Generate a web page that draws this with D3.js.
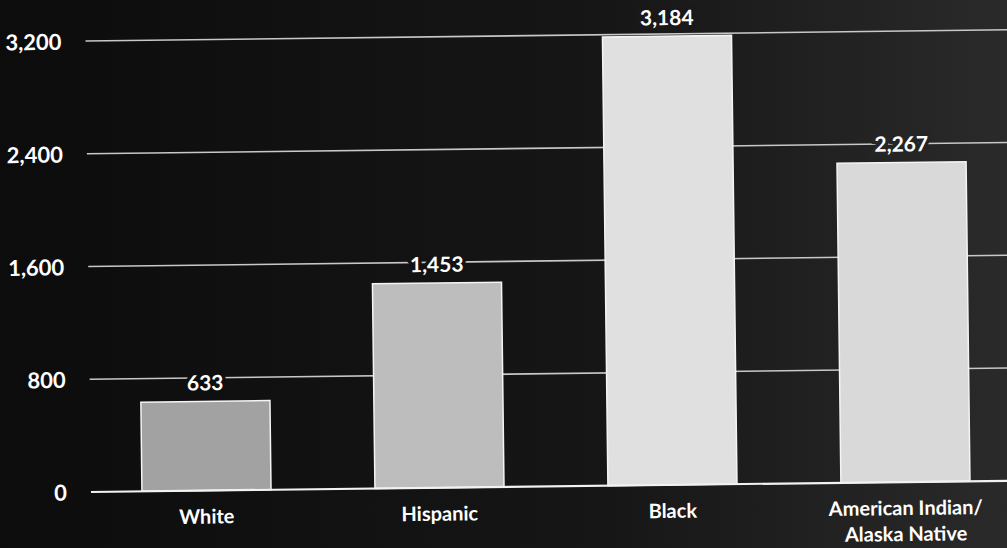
<!DOCTYPE html>
<html>
<head>
<meta charset="utf-8">
<script src="https://cdn.jsdelivr.net/npm/d3@7"></script>
<style>
  html, body { margin: 0; padding: 0; background: #111; }
  svg { display: block; }
  text { font-family: Lato, "DejaVu Sans", sans-serif; font-weight: 700; fill: #fff; }
</style>
</head>
<body>
<svg id="chart" width="1007" height="548"></svg>
<script>
// Rate per 100,000 by race/ethnicity
const categories = ["White", "Hispanic", "Black", "American Indian/\nAlaska Native"];
const values = [633, 1453, 3184, 2267];
const tickValues = [0, 800, 1600, 2400, 3200];
const barFills = ["#a2a2a2", "#bdbdbd", "#e0e0e0", "#d9d9d9"];

const W = 1007, H = 548;
const svg = d3.select("#chart");

// dark backdrop, slightly lighter toward the right
const bgStops = [[0, "#0c0c0c"], [0.6, "#161616"], [1, "#2a2a2a"]];
const defs = svg.append("defs");
const grad = defs.append("linearGradient").attr("id", "bg").attr("x1", 0).attr("x2", 1);
bgStops.forEach(([o, c]) => grad.append("stop").attr("offset", o).attr("stop-color", c));
svg.append("rect").attr("width", W).attr("height", H).attr("fill", "url(#bg)");
const bgAt = d3.scaleLinear().domain(bgStops.map(s => s[0] * W)).range(bgStops.map(s => s[1]));

const plotLeft = 90, plotRight = 1022, plotTop = 41, plotBottom = 492;

const x = d3.scaleBand().domain(categories).range([plotLeft, plotRight]).paddingInner(0.446).paddingOuter(0.223);
const y = d3.scaleLinear().domain([0, 3200]).range([plotBottom, plotTop]);

// whole plot is tilted slightly counter-clockwise
const g = svg.append("g").attr("transform", `rotate(-0.7, ${plotLeft}, ${plotBottom})`);

// horizontal gridlines
g.append("g").selectAll("line").data(tickValues.filter(d => d > 0)).join("line")
  .attr("x1", plotLeft + 1).attr("x2", W + 20)
  .attr("y1", d => y(d)).attr("y2", d => y(d))
  .attr("stroke", "#c8c8c8").attr("stroke-width", 1.6);

// y axis tick labels
const yAxis = d3.axisLeft(y).tickValues(tickValues).tickFormat(d3.format(",")).tickSize(0).tickPadding(0);
const ya = g.append("g").attr("transform", "translate(67,0)").call(yAxis);
ya.select(".domain").remove();
ya.selectAll("text").attr("font-size", 22).attr("fill", "#fff")
  .style("font-family", "Lato, sans-serif").style("font-weight", 700).attr("dy", "0.36em");

// bars
g.append("g").selectAll("rect").data(values).join("rect")
  .attr("x", (d, i) => x(categories[i]))
  .attr("width", x.bandwidth())
  .attr("y", d => y(d))
  .attr("height", d => y(0) - y(d))
  .attr("fill", (d, i) => barFills[i])
  .attr("stroke", "#f4f4f4").attr("stroke-width", 1.5);

// baseline
g.append("line").attr("x1", plotLeft + 1).attr("x2", W + 20)
  .attr("y1", y(0)).attr("y2", y(0))
  .attr("stroke", "#f2f2f2").attr("stroke-width", 2.2);

// value labels, knocking out the gridline behind them
g.append("g").selectAll("text").data(values).join("text")
  .attr("x", (d, i) => x(categories[i]) + x.bandwidth() / 2)
  .attr("y", d => y(d) - 11)
  .attr("text-anchor", "middle")
  .attr("font-size", 21)
  .attr("stroke", (d, i) => bgAt(x(categories[i]) + x.bandwidth() / 2))
  .attr("stroke-width", 7)
  .style("paint-order", "stroke")
  .text(d3.format(","));

// category labels
const cat = g.append("g").selectAll("text").data(categories).join("text")
  .attr("x", d => x(d) + x.bandwidth() / 2)
  .attr("y", 525)
  .attr("text-anchor", "middle")
  .attr("font-size", 20);
cat.each(function(d) {
  const lines = d.split("\n");
  d3.select(this).selectAll("tspan").data(lines).join("tspan")
    .attr("x", d3.select(this).attr("x"))
    .attr("dy", (l, i) => i === 0 ? 0 : 26)
    .text(l => l);
});
</script>
</body>
</html>
